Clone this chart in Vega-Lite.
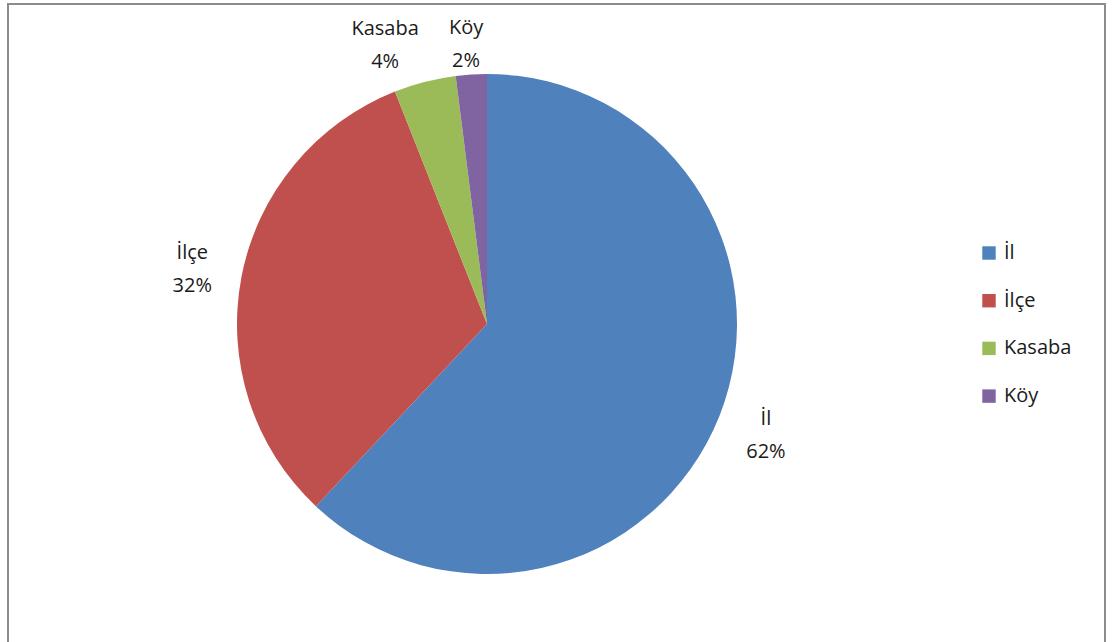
{
  "$schema": "https://vega.github.io/schema/vega-lite/v6.json",
  "width": 1097,
  "height": 680,
  "padding": {"left": 8, "top": 4, "right": 6, "bottom": 0},
  "autosize": {"type": "none"},
  "background": "white",
  "config": {
    "view": {"stroke": null},
    "font": "Open Sans"
  },
  "data": {
    "values": [
      {"category": "İl", "value": 62},
      {"category": "İlçe", "value": 32},
      {"category": "Kasaba", "value": 4},
      {"category": "Köy", "value": 2}
    ]
  },
  "transform": [
    {"window": [{"op": "row_number", "as": "idx"}]},
    {"calculate": "datum.category + '\\n' + datum.value + '%'", "as": "label"}
  ],
  "layer": [
    {
      "mark": {"type": "rect", "fill": null, "stroke": "#8c8c8c", "strokeWidth": 2},
      "encoding": {}
    },
    {
      "mark": {"type": "arc", "outerRadius": 250, "x": 479, "y": 320},
      "encoding": {
        "theta": {"field": "value", "type": "quantitative", "stack": true},
        "order": {"field": "idx", "type": "quantitative"},
        "color": {
          "field": "category",
          "type": "nominal",
          "sort": ["İl", "İlçe", "Kasaba", "Köy"],
          "scale": {
            "domain": ["İl", "İlçe", "Kasaba", "Köy"],
            "range": ["#4F81BD", "#C0504D", "#9BBB59", "#8064A2"]
          },
          "legend": {
            "title": null,
            "orient": "none",
            "legendX": 971,
            "legendY": 239,
            "symbolType": "square",
            "symbolSize": 180,
            "symbolStrokeWidth": 0,
            "labelFontSize": 20,
            "labelFont": "Open Sans",
            "labelColor": "#1a1a1a",
            "labelOffset": 5,
            "rowPadding": 27.7
          }
        }
      }
    },
    {
      "mark": {"type": "text", "radius": 300, "dy": -15, "x": 479, "y": 320, "fontSize": 20, "lineBreak": "\n", "lineHeight": 33, "align": "center", "baseline": "middle"},
      "encoding": {
        "theta": {"field": "value", "type": "quantitative", "stack": true},
        "order": {"field": "idx", "type": "quantitative"},
        "text": {"condition": {"test": "datum.category === 'İl' || datum.category === 'İlçe'", "field": "label"}, "value": ""},
        "color": {"value": "#1a1a1a"}
      }
    },
    {
      "mark": {"type": "text", "radius": 285, "dx": -31, "dy": -19, "x": 479, "y": 320, "fontSize": 20, "lineBreak": "\n", "lineHeight": 33, "align": "center", "baseline": "middle"},
      "encoding": {
        "theta": {"field": "value", "type": "quantitative", "stack": true},
        "order": {"field": "idx", "type": "quantitative"},
        "text": {"condition": {"test": "datum.category === 'Kasaba'", "field": "label"}, "value": ""},
        "color": {"value": "#1a1a1a"}
      }
    },
    {
      "mark": {"type": "text", "radius": 285, "dx": -3, "dy": -12, "x": 479, "y": 320, "fontSize": 20, "lineBreak": "\n", "lineHeight": 33, "align": "center", "baseline": "middle"},
      "encoding": {
        "theta": {"field": "value", "type": "quantitative", "stack": true},
        "order": {"field": "idx", "type": "quantitative"},
        "text": {"condition": {"test": "datum.category === 'Köy'", "field": "label"}, "value": ""},
        "color": {"value": "#1a1a1a"}
      }
    }
  ]
}
